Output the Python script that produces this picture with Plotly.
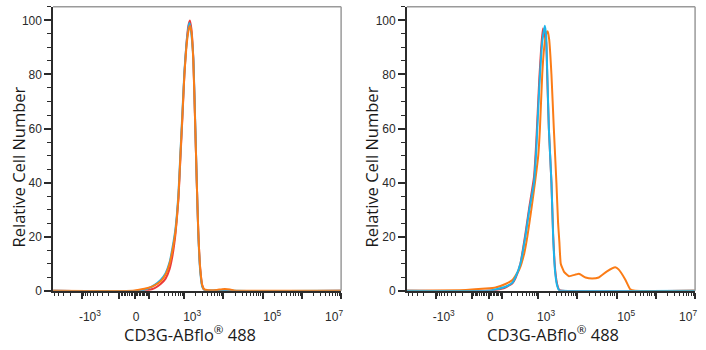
import numpy as np
import plotly.graph_objects as go

# Biexponential-style display transform for the fluorescence channel
# (slightly narrower linear region on the negative side)
W_POS, W_NEG = 111.0, 90.0


def biex(v):
    v = np.asarray(v, dtype=float)
    w = np.where(v < 0, W_NEG, W_POS)
    return np.arcsinh(v / w) / np.log(10)


X_MIN, X_MAX = -5450, 1e7

# ---- Left histogram (three overlaid samples) ----
left_red_x = [-5450, 66, 160, 240, 328, 418, 500, 597, 713, 801, 901, 1013, 1138, 1280,
              1396, 1525, 1713, 1925, 2101, 2293, 2576, 2893, 3251, 4101, 1e7]
left_red_y = [0, 0, 1, 2.5, 4.5, 8, 13, 21, 34, 49, 64, 80, 91, 98,
              100, 97, 86, 60, 40, 22, 8, 2, 0.4, 0, 0]

left_cyan_x = [-5450, 30, 92, 160, 240, 328, 418, 500, 597, 713, 801, 901, 1013, 1138,
               1280, 1356, 1464, 1713, 1925, 2101, 2293, 2576, 2893, 3251, 4101, 9257,
               14741, 18604, 1e7]
left_cyan_y = [0, 0, 0.8, 2.2, 4, 6.5, 10.5, 16, 23, 36, 51, 66, 81, 91,
               97, 99, 97, 86, 61, 40, 21, 7, 1.5, 0.3, 0.1, 0.3,
               0.2, 0, 0]

left_orange_x = [-5450, -10, 20, 92, 160, 240, 328, 418, 500, 597, 713, 801, 901, 1013,
                 1138, 1280, 1396, 1525, 1713, 1925, 2101, 2293, 2576, 2893, 3251, 4101,
                 6921, 9257, 14741, 18604, 29626, 1e7]
left_orange_y = [0, 0, 0.3, 1, 2, 3.5, 6, 10, 15, 22, 35, 50, 65, 80,
                 90, 96, 98, 96, 85, 60, 40, 22, 8, 2, 0.5, 0.2,
                 0.3, 0.6, 0.5, 0.1, 0, 0]

# ---- Right histogram (three overlaid samples) ----
right_red_x = [-5450, -16, 46, 128, 210, 255, 348, 471, 597, 787, 901, 1074, 1207, 1333,
               1498, 1616, 1713, 1891, 2201, 2430, 2729, 3066, 3445, 4101, 1e7]
right_red_y = [0, 0, 0.3, 1.2, 2.8, 4.6, 10, 21, 31, 42, 55, 78, 90, 97,
               94, 92, 80, 60, 40, 21, 8, 2.5, 0.4, 0, 0]

right_cyan_x = [-5450, 0, 46, 128, 210, 255, 348, 471, 597, 787, 901, 1074, 1280, 1498,
                1616, 1713, 1891, 2201, 2430, 2729, 3066, 3445, 4101, 1e7]
right_cyan_y = [0, 0, 0.5, 1.5, 3, 5, 10, 20, 30, 40, 52, 75, 92, 98,
                94, 82, 60, 40, 20, 7, 2, 0.2, 0, 0]

right_orange_x = [-5450, -160, -16, 46, 128, 210, 328, 443, 530, 672, 835, 1013, 1119, 1280,
                  1438, 1616, 1764, 1925, 2201, 2531, 2944, 3251, 3506, 3803, 4609, 6166,
                  9096, 11022, 16278, 23882, 35259, 57132, 93129, 112832, 166556, 222722,
                  298035, 1e7]
right_orange_y = [0, 0.3, 0.8, 1.2, 2.5, 4, 8, 14, 20, 30, 40, 50, 60, 80,
                  90, 95, 96, 93, 80, 60, 40, 25, 18, 10, 7, 5.4,
                  6, 6.3, 4.9, 4.5, 4.9, 7.2, 8.7, 7.9, 4.2, 0.6,
                  0, 0]

# Axis ticks: labels are nudged so each sits just right of its decade tick,
# except the last one, which stays inside the frame
NB = "\u00a0"
major_vals = [-1e3, -1e2, 0, 1e2, 1e3, 1e4, 1e5, 1e6, 1e7]
major_text = [NB * 9 + "-10<sup>3</sup>", "", NB * 5 + "0", "", NB * 9 + "10<sup>3</sup>", "",
              NB * 10 + "10<sup>5</sup>", "", "10<sup>7</sup>"]
minor_vals = ([-k * 1000 for k in range(2, 6)] + [-k * 100 for k in range(2, 10)]
              + [s * k * 10 for s in (-1, 1) for k in range(1, 10)]
              + [k * 10 ** n for n in range(2, 7) for k in range(2, 10)])

RED = "#ec3b3b"
CYAN = "#1db4ea"
ORANGE = "#fb7c16"
AXIS = "#2b2b2b"
BORDER = "#9a9a9a"

fig = go.Figure()

panels = [
    ("x", "y", [(left_red_x, left_red_y, RED), (left_cyan_x, left_cyan_y, CYAN),
                (left_orange_x, left_orange_y, ORANGE)]),
    ("x2", "y2", [(right_red_x, right_red_y, RED), (right_orange_x, right_orange_y, ORANGE),
                  (right_cyan_x, right_cyan_y, CYAN)]),
]
for xa, ya, series in panels:
    for xs, ys, col in series:
        fig.add_trace(go.Scatter(x=biex(xs), y=ys, xaxis=xa, yaxis=ya, mode="lines",
                                 line=dict(color=col, width=2, shape="spline",
                                           smoothing=0.4),
                                 hoverinfo="skip", showlegend=False))

W_PX, H_PX = 706, 350
plot_top, plot_bottom = 7, 296.7
ydom = [(H_PX - plot_bottom) / H_PX, (H_PX - plot_top) / H_PX]
xdom1 = [49.5 / W_PX, 340 / W_PX]
xdom2 = [406.3 / W_PX, 697 / W_PX]

tickfont = dict(family="Liberation Sans, Arial", size=12, color="#2a2a2a")

xcommon = dict(
    range=[float(biex(X_MIN)), float(biex(X_MAX))],
    tickmode="array", tickvals=[float(v) for v in biex(major_vals)], ticktext=major_text,
    ticks="outside", ticklen=6, tickwidth=2, tickcolor=AXIS,
    ticklabelstandoff=8, ticklabelshift=-7,
    minor=dict(tickmode="array", tickvals=[float(v) for v in biex(minor_vals)],
               ticks="outside", ticklen=3, tickwidth=1, tickcolor=AXIS),
    showline=True, linecolor=AXIS, linewidth=1.5, showgrid=False, zeroline=False,
    tickfont=tickfont, layer="below traces", fixedrange=True,
)
ycommon = dict(
    range=[0, 105], tickmode="array", tickvals=[0, 20, 40, 60, 80, 100],
    ticks="outside", ticklen=7, tickwidth=2, tickcolor=AXIS,
    minor=dict(dtick=5, tick0=0, ticks="outside", ticklen=4, tickwidth=1, tickcolor=AXIS),
    showline=True, linecolor=AXIS, linewidth=1.5, showgrid=False, zeroline=False,
    tickfont=tickfont, layer="below traces", fixedrange=True,
)

fig.update_layout(
    width=W_PX, height=H_PX,
    margin=dict(l=0, r=0, t=0, b=0),
    paper_bgcolor="white", plot_bgcolor="white",
    xaxis=dict(domain=xdom1, anchor="y", **xcommon),
    yaxis=dict(domain=ydom, anchor="x", **ycommon),
    xaxis2=dict(domain=xdom2, anchor="y2", **xcommon),
    yaxis2=dict(domain=ydom, anchor="x2", **ycommon),
)

# Grey frame on top and right of each panel
for xd in (xdom1, xdom2):
    fig.add_shape(type="line", xref="paper", yref="paper", x0=xd[0], x1=xd[1],
                  y0=ydom[1], y1=ydom[1], line=dict(color=BORDER, width=1.5))
    fig.add_shape(type="line", xref="paper", yref="paper", x0=xd[1], x1=xd[1],
                  y0=ydom[0], y1=ydom[1], line=dict(color=BORDER, width=1.5))

title_font = dict(family="Open Sans, Noto Sans", size=16.5, color="#1a1a1a")
for cx in (187.5, 554):
    fig.add_annotation(text="CD3G-ABflo<sup>®</sup> 488", xref="paper", yref="paper",
                       x=cx / W_PX, y=(H_PX - 341) / H_PX, showarrow=False,
                       xanchor="center", yanchor="middle", font=title_font)
for cx in (15, 371):
    fig.add_annotation(text="Relative Cell Number", xref="paper", yref="paper",
                       x=cx / W_PX, y=(H_PX - 170) / H_PX, showarrow=False, textangle=-90,
                       xanchor="center", yanchor="middle", font=title_font)

fig.write_html("out.html")
